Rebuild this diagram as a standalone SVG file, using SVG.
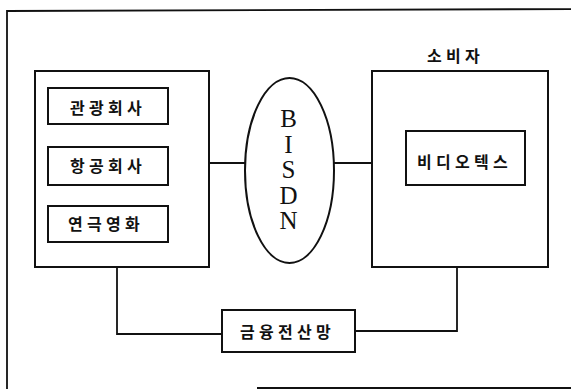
<svg xmlns="http://www.w3.org/2000/svg" width="571" height="389" viewBox="0 0 571 389">
  <style>
    .box { fill: #ffffff; stroke: #111111; stroke-width: 2; }
    .wire { fill: none; stroke: #111111; stroke-width: 1.8; }
    .frame { fill: none; stroke: #111111; stroke-width: 1.8; }
    .ko { font-family: "Noto Sans CJK KR", "Noto Sans", sans-serif; font-size: 16px; font-weight: 700; fill: #111111; letter-spacing: 4.3px; dominant-baseline: central; }
    .net { font-family: "Liberation Serif", "DejaVu Serif", serif; font-size: 25px; fill: #111111; text-anchor: middle; }
  </style>
  <rect width="571" height="389" fill="#ffffff"/>

  <!-- outer frame -->
  <path class="frame" d="M 580 9 L 7 11 L 7 389"/>
  <line class="frame" x1="257" y1="388" x2="571" y2="388"/>

  <!-- connectors -->
  <g id="connectors">
    <path class="wire" d="M 168 105 L 189 105 L 189 225 L 168 225"/>
    <line class="wire" x1="168" y1="163" x2="246" y2="163"/>
    <line class="wire" x1="333" y1="163" x2="406" y2="163"/>
    <path class="wire" d="M 117 267 L 117 334 L 222 334"/>
    <path class="wire" d="M 457 267 L 457 331 L 355 331"/>
  </g>

  <g id="providers">
    <rect class="box" x="35" y="71" width="174" height="196"/>
  </g>
  <g id="tour">
    <rect class="box" x="48" y="88" width="120" height="36"/>
    <text class="ko" x="70" y="107">관광회사</text>
  </g>
  <g id="airline">
    <rect class="box" x="48" y="147" width="120" height="38"/>
    <text class="ko" x="70" y="165">항공회사</text>
  </g>
  <g id="theater">
    <rect class="box" x="48" y="206" width="120" height="36"/>
    <text class="ko" x="68" y="223">연극영화</text>
  </g>

  <g id="bisdn">
    <ellipse cx="289.5" cy="170.5" rx="44.5" ry="92.5" fill="#ffffff" stroke="#111111" stroke-width="2"/>
    <text class="net" x="288.5" y="127">B</text>
    <text class="net" x="288.5" y="152.5">I</text>
    <text class="net" x="288.5" y="178">S</text>
    <text class="net" x="288.5" y="203.5">D</text>
    <text class="net" x="288.5" y="229">N</text>
  </g>

  <g id="consumer">
    <text class="ko" x="427" y="55">소비자</text>
    <rect class="box" x="372" y="71" width="176" height="196"/>
  </g>
  <g id="videotex">
    <rect class="box" x="406" y="131" width="119" height="54"/>
    <text class="ko" x="417" y="160.5">비디오텍스</text>
  </g>

  <g id="finance">
    <rect class="box" x="222" y="310" width="133" height="42"/>
    <text class="ko" x="240" y="331">금융전산망</text>
  </g>
</svg>
